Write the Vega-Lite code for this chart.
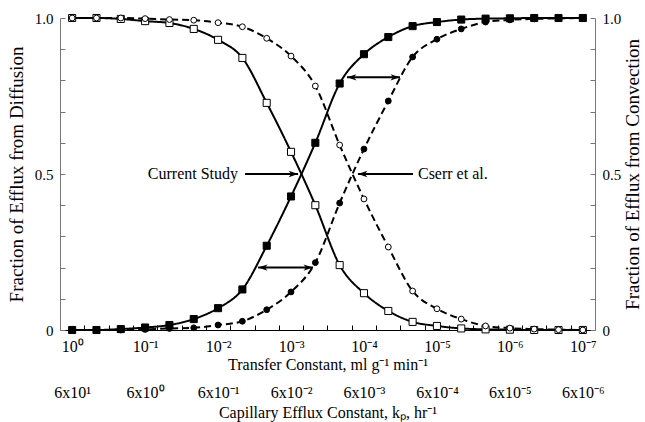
{
  "$schema": "https://vega.github.io/schema/vega-lite/v6.json",
  "autosize": {"type": "none"},
  "padding": {"left": 60, "top": 18, "right": 50, "bottom": 92},
  "width": 535,
  "height": 312,
  "config": {
    "view": {"stroke": null},
    "font": "Liberation Serif",
    "axis": {"labelFont": "Liberation Serif", "titleFont": "Liberation Serif", "labelColor": "black", "titleColor": "black", "titleFontWeight": "normal", "grid": false},
    "text": {"font": "Liberation Serif"}
  },
  "datasets": {
    "curves": [
      {"k": 1, "s": "CS diffusion", "f": 1.0},
      {"k": 0.46416, "s": "CS diffusion", "f": 1.0},
      {"k": 0.21544, "s": "CS diffusion", "f": 0.997},
      {"k": 0.1, "s": "CS diffusion", "f": 0.99},
      {"k": 0.046416, "s": "CS diffusion", "f": 0.984},
      {"k": 0.021544, "s": "CS diffusion", "f": 0.965},
      {"k": 0.01, "s": "CS diffusion", "f": 0.93},
      {"k": 0.0046416, "s": "CS diffusion", "f": 0.872},
      {"k": 0.0021544, "s": "CS diffusion", "f": 0.728},
      {"k": 0.001, "s": "CS diffusion", "f": 0.571},
      {"k": 0.00046416, "s": "CS diffusion", "f": 0.40},
      {"k": 0.00021544, "s": "CS diffusion", "f": 0.208},
      {"k": 0.0001, "s": "CS diffusion", "f": 0.118},
      {"k": 0.000046416, "s": "CS diffusion", "f": 0.061},
      {"k": 0.000021544, "s": "CS diffusion", "f": 0.026},
      {"k": 0.00001, "s": "CS diffusion", "f": 0.013},
      {"k": 0.0000046416, "s": "CS diffusion", "f": 0.005},
      {"k": 0.0000021544, "s": "CS diffusion", "f": 0.002},
      {"k": 0.000001, "s": "CS diffusion", "f": 0.001},
      {"k": 4.6416e-7, "s": "CS diffusion", "f": 0},
      {"k": 2.1544e-7, "s": "CS diffusion", "f": 0},
      {"k": 1e-7, "s": "CS diffusion", "f": 0},
      {"k": 1, "s": "CS convection", "f": 0},
      {"k": 0.46416, "s": "CS convection", "f": 0},
      {"k": 0.21544, "s": "CS convection", "f": 0.003},
      {"k": 0.1, "s": "CS convection", "f": 0.008},
      {"k": 0.046416, "s": "CS convection", "f": 0.016},
      {"k": 0.021544, "s": "CS convection", "f": 0.035},
      {"k": 0.01, "s": "CS convection", "f": 0.07},
      {"k": 0.0046416, "s": "CS convection", "f": 0.13},
      {"k": 0.0021544, "s": "CS convection", "f": 0.27},
      {"k": 0.001, "s": "CS convection", "f": 0.428},
      {"k": 0.00046416, "s": "CS convection", "f": 0.60},
      {"k": 0.00021544, "s": "CS convection", "f": 0.79},
      {"k": 0.0001, "s": "CS convection", "f": 0.884},
      {"k": 0.000046416, "s": "CS convection", "f": 0.939},
      {"k": 0.000021544, "s": "CS convection", "f": 0.974},
      {"k": 0.00001, "s": "CS convection", "f": 0.987},
      {"k": 0.0000046416, "s": "CS convection", "f": 0.995},
      {"k": 0.0000021544, "s": "CS convection", "f": 0.998},
      {"k": 0.000001, "s": "CS convection", "f": 0.999},
      {"k": 4.6416e-7, "s": "CS convection", "f": 1},
      {"k": 2.1544e-7, "s": "CS convection", "f": 1},
      {"k": 1e-7, "s": "CS convection", "f": 1},
      {"k": 1, "s": "Cserr diffusion", "f": 1},
      {"k": 0.46416, "s": "Cserr diffusion", "f": 1},
      {"k": 0.21544, "s": "Cserr diffusion", "f": 1},
      {"k": 0.1, "s": "Cserr diffusion", "f": 0.998},
      {"k": 0.046416, "s": "Cserr diffusion", "f": 0.995},
      {"k": 0.021544, "s": "Cserr diffusion", "f": 0.993},
      {"k": 0.01, "s": "Cserr diffusion", "f": 0.985},
      {"k": 0.0046416, "s": "Cserr diffusion", "f": 0.972},
      {"k": 0.0021544, "s": "Cserr diffusion", "f": 0.935},
      {"k": 0.001, "s": "Cserr diffusion", "f": 0.878},
      {"k": 0.00046416, "s": "Cserr diffusion", "f": 0.782},
      {"k": 0.00021544, "s": "Cserr diffusion", "f": 0.593},
      {"k": 0.0001, "s": "Cserr diffusion", "f": 0.42},
      {"k": 0.000046416, "s": "Cserr diffusion", "f": 0.266},
      {"k": 0.000021544, "s": "Cserr diffusion", "f": 0.125},
      {"k": 0.00001, "s": "Cserr diffusion", "f": 0.068},
      {"k": 0.0000046416, "s": "Cserr diffusion", "f": 0.035},
      {"k": 0.0000021544, "s": "Cserr diffusion", "f": 0.013},
      {"k": 0.000001, "s": "Cserr diffusion", "f": 0.006},
      {"k": 4.6416e-7, "s": "Cserr diffusion", "f": 0.003},
      {"k": 2.1544e-7, "s": "Cserr diffusion", "f": 0.001},
      {"k": 1e-7, "s": "Cserr diffusion", "f": 0},
      {"k": 1, "s": "Cserr convection", "f": 0},
      {"k": 0.46416, "s": "Cserr convection", "f": 0},
      {"k": 0.21544, "s": "Cserr convection", "f": 0},
      {"k": 0.1, "s": "Cserr convection", "f": 0.002},
      {"k": 0.046416, "s": "Cserr convection", "f": 0.005},
      {"k": 0.021544, "s": "Cserr convection", "f": 0.007},
      {"k": 0.01, "s": "Cserr convection", "f": 0.016},
      {"k": 0.0046416, "s": "Cserr convection", "f": 0.028},
      {"k": 0.0021544, "s": "Cserr convection", "f": 0.065},
      {"k": 0.001, "s": "Cserr convection", "f": 0.122},
      {"k": 0.00046416, "s": "Cserr convection", "f": 0.216},
      {"k": 0.00021544, "s": "Cserr convection", "f": 0.407},
      {"k": 0.0001, "s": "Cserr convection", "f": 0.58},
      {"k": 0.000046416, "s": "Cserr convection", "f": 0.734},
      {"k": 0.000021544, "s": "Cserr convection", "f": 0.875},
      {"k": 0.00001, "s": "Cserr convection", "f": 0.932},
      {"k": 0.0000046416, "s": "Cserr convection", "f": 0.965},
      {"k": 0.0000021544, "s": "Cserr convection", "f": 0.987},
      {"k": 0.000001, "s": "Cserr convection", "f": 0.994},
      {"k": 4.6416e-7, "s": "Cserr convection", "f": 0.997},
      {"k": 2.1544e-7, "s": "Cserr convection", "f": 0.999},
      {"k": 1e-7, "s": "Cserr convection", "f": 1}
    ],
    "arrows": [
      {"k": 0.00427, "k2": 0.0008, "f": 0.5},
      {"k": 0.0000213, "k2": 0.000121, "f": 0.5},
      {"k": 0.000171, "k2": 0.0000321, "f": 0.81},
      {"k": 0.00283, "k2": 0.0005, "f": 0.2}
    ],
    "heads": [
      {"k": 0.0008, "f": 0.5, "d": "right"},
      {"k": 0.000121, "f": 0.5, "d": "left"},
      {"k": 0.000171, "f": 0.81, "d": "left"},
      {"k": 0.0000321, "f": 0.81, "d": "right"},
      {"k": 0.00283, "f": 0.2, "d": "left"},
      {"k": 0.0005, "f": 0.2, "d": "right"}
    ]
  },
  "layer": [
    {
      "data": {"name": "curves"},
      "mark": {"type": "line", "interpolate": "monotone", "strokeWidth": 2, "color": "black"},
      "encoding": {
        "x": {"field": "k", "type": "quantitative",
          "scale": {"type": "log", "domain": [6.8129e-8, 1.4678], "reverse": true, "nice": false},
          "axis": {"orient": "bottom", "values": [0.68129, 0.31623, 0.14678, 0.068129, 0.031623, 0.014678, 0.0068129, 0.0031623, 0.0014678, 0.00068129, 0.00031623, 0.00014678, 0.000068129, 0.000031623, 0.000014678, 0.0000068129, 0.0000031623, 0.0000014678, 6.8129e-7, 3.1623e-7, 1.4678e-7],
            "labels": false, "title": null, "tickSize": -5, "tickColor": "black", "domainColor": "black", "domainWidth": 1.2}},
        "y": {"field": "f", "type": "quantitative",
          "scale": {"domain": [0, 1], "nice": false, "zero": false},
          "axis": {"orient": "left", "values": [0, 0.1, 0.2, 0.3, 0.4, 0.5, 0.6, 0.7, 0.8, 0.9, 1],
            "labelExpr": "datum.value == 0 ? '0' : datum.value == 0.5 ? '0.5' : datum.value == 1 ? '1.0' : ''",
            "tickSize": -5, "tickColor": "#777", "domainColor": "#777", "labelPadding": 12, "labelFontSize": 15,
            "title": "Fraction of Efflux from Diffusion", "titleFontSize": 19, "titlePadding": 8}},
        "detail": {"field": "s"},
        "strokeDash": {"field": "s", "type": "nominal",
          "scale": {"domain": ["CS diffusion", "CS convection", "Cserr diffusion", "Cserr convection"], "range": [[1, 0], [1, 0], [7, 4], [7, 4]]},
          "legend": null}
      }
    },
    {
      "data": {"name": "curves"},
      "mark": {"type": "point", "filled": true, "stroke": "black", "strokeWidth": 1, "opacity": 1},
      "encoding": {
        "x": {"field": "k", "type": "quantitative", "scale": {"type": "log", "domain": [6.8129e-8, 1.4678], "reverse": true, "nice": false}, "axis": null},
        "y": {"field": "f", "type": "quantitative", "scale": {"domain": [0, 1], "nice": false, "zero": false}, "axis": null},
        "shape": {"field": "s", "type": "nominal",
          "scale": {"domain": ["CS diffusion", "CS convection", "Cserr diffusion", "Cserr convection"], "range": ["square", "square", "circle", "circle"]},
          "legend": null},
        "fill": {"field": "s", "type": "nominal",
          "scale": {"domain": ["CS diffusion", "CS convection", "Cserr diffusion", "Cserr convection"], "range": ["white", "black", "white", "black"]},
          "legend": null},
        "size": {"condition": {"test": "indexof(datum.s, 'Cserr') >= 0", "value": 34}, "value": 50}
      }
    },
    {
      "mark": {"type": "rule", "color": "black", "strokeWidth": 1.2},
      "encoding": {"y": {"datum": 1, "type": "quantitative", "scale": {"domain": [0, 1], "nice": false, "zero": false}, "axis": null}}
    },
    {
      "data": {"name": "arrows"},
      "mark": {"type": "rule", "color": "black", "strokeWidth": 2},
      "encoding": {
        "x": {"field": "k", "type": "quantitative", "scale": {"type": "log", "domain": [6.8129e-8, 1.4678], "reverse": true, "nice": false}, "axis": null},
        "x2": {"field": "k2"},
        "y": {"field": "f", "type": "quantitative", "scale": {"domain": [0, 1], "nice": false, "zero": false}, "axis": null}
      }
    },
    {
      "data": {"name": "heads"},
      "mark": {"type": "point", "filled": true, "color": "black", "opacity": 1, "size": 360},
      "encoding": {
        "x": {"field": "k", "type": "quantitative", "scale": {"type": "log", "domain": [6.8129e-8, 1.4678], "reverse": true, "nice": false}, "axis": null},
        "y": {"field": "f", "type": "quantitative", "scale": {"domain": [0, 1], "nice": false, "zero": false}, "axis": null},
        "shape": {"field": "d", "type": "nominal",
          "scale": {"domain": ["right", "left"], "range": ["M0,0L-1,-0.33L-0.72,0L-1,0.33Z", "M0,0L1,-0.33L0.72,0L1,0.33Z"]},
          "legend": null}
      }
    },
    {
      "data": {"values": [{"k": 0.005, "f": 0.5, "t": "Current Study"}]},
      "mark": {"type": "text", "align": "right", "baseline": "middle", "fontSize": 16, "dx": -2},
      "encoding": {
        "x": {"field": "k", "type": "quantitative", "scale": {"type": "log", "domain": [6.8129e-8, 1.4678], "reverse": true, "nice": false}, "axis": null},
        "y": {"field": "f", "type": "quantitative", "scale": {"domain": [0, 1], "nice": false, "zero": false}, "axis": null},
        "text": {"field": "t"}
      }
    },
    {
      "data": {"values": [{"k": 0.0000182, "f": 0.5, "t": "Cserr et al."}]},
      "mark": {"type": "text", "align": "left", "baseline": "middle", "fontSize": 16},
      "encoding": {
        "x": {"field": "k", "type": "quantitative", "scale": {"type": "log", "domain": [6.8129e-8, 1.4678], "reverse": true, "nice": false}, "axis": null},
        "y": {"field": "f", "type": "quantitative", "scale": {"domain": [0, 1], "nice": false, "zero": false}, "axis": null},
        "text": {"field": "t"}
      }
    },
    {
      "data": {"name": "curves"},
      "mark": {"type": "point", "opacity": 0},
      "encoding": {
        "x": {"field": "k", "type": "quantitative",
          "scale": {"type": "log", "domain": [6.8129e-8, 1.4678], "reverse": true, "nice": false},
          "axis": {"orient": "bottom", "values": [1, 0.1, 0.01, 0.001, 0.0001, 0.00001, 0.000001, 1e-7], "ticks": false, "domain": false,
            "labelExpr": "'10' + ['⁰','⁻¹','⁻²','⁻³','⁻⁴','⁻⁵','⁻⁶','⁻⁷'][round(-log(datum.value)/LN10)]",
            "labelFontSize": 16, "labelPadding": 8, "labelFlush": false,
            "title": "Transfer Constant, ml g⁻¹ min⁻¹", "titleFontSize": 16, "titlePadding": 2}},
        "y": {"field": "f", "type": "quantitative",
          "scale": {"domain": [0, 1], "nice": false, "zero": false},
          "axis": {"orient": "right", "values": [0, 0.1, 0.2, 0.3, 0.4, 0.5, 0.6, 0.7, 0.8, 0.9, 1],
            "labelExpr": "datum.value == 0 ? '0' : datum.value == 0.5 ? '0.5' : datum.value == 1 ? '1.0' : ''",
            "tickSize": -5, "tickColor": "#777", "domainColor": "#777", "labelPadding": 12, "labelFontSize": 15,
            "title": "Fraction of Efflux from Convection", "titleFontSize": 19, "titlePadding": 3, "titleAngle": 270, "titleBaseline": "top"}}
      }
    },
    {
      "data": {"name": "curves"},
      "mark": {"type": "point", "opacity": 0},
      "encoding": {
        "x": {"field": "k", "type": "quantitative",
          "scale": {"type": "log", "domain": [6.8129e-8, 1.4678], "reverse": true, "nice": false},
          "axis": {"orient": "bottom", "offset": 50, "values": [1, 0.1, 0.01, 0.001, 0.0001, 0.00001, 0.000001, 1e-7], "ticks": false, "domain": false,
            "labelExpr": "'6x10' + ['¹','⁰','⁻¹','⁻²','⁻³','⁻⁴','⁻⁵','⁻⁶'][round(-log(datum.value)/LN10)]",
            "labelFontSize": 16, "labelPadding": 4, "labelFlush": false,
            "title": "Capillary Efflux Constant, kₚ, hr⁻¹", "titleFontSize": 16, "titlePadding": 4}},
        "y": {"field": "f", "type": "quantitative", "scale": {"domain": [0, 1], "nice": false, "zero": false}, "axis": null}
      }
    }
  ],
  "resolve": {"axis": {"x": "independent", "y": "independent"}, "scale": {"shape": "independent", "fill": "independent"}}
}
